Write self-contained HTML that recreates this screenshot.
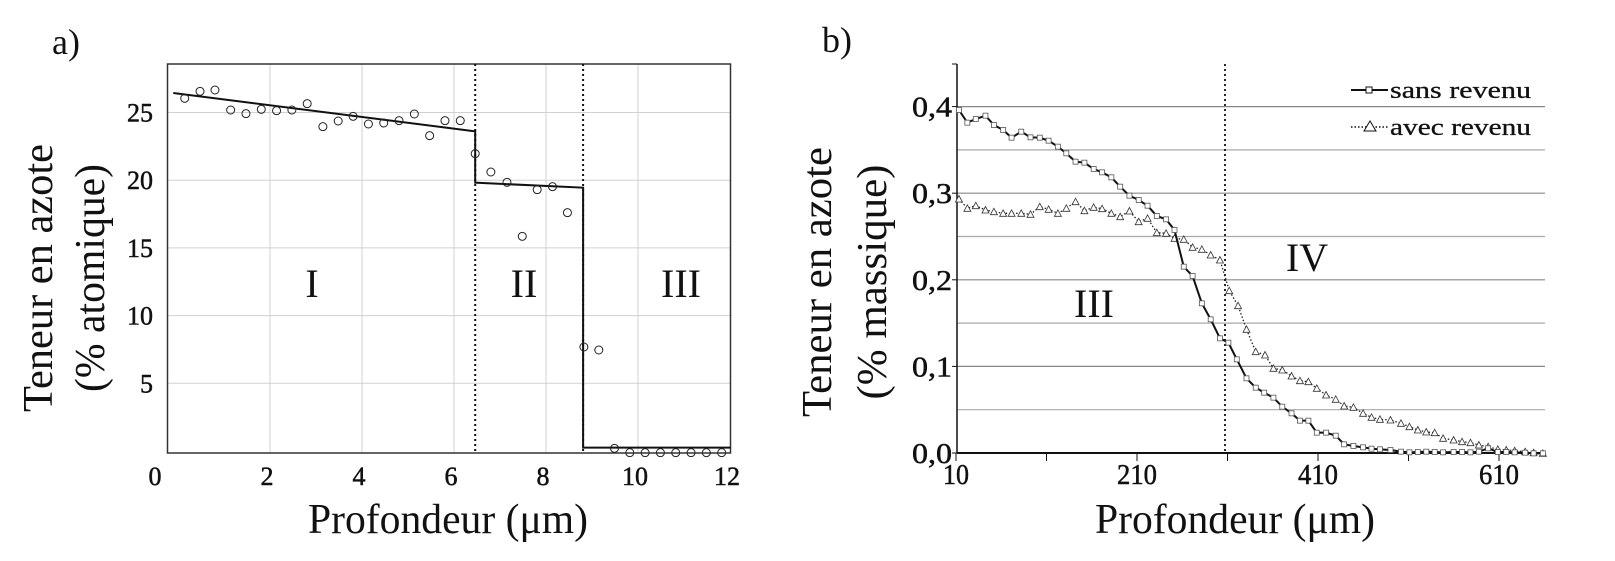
<!DOCTYPE html>
<html><head><meta charset="utf-8">
<style>
html,body{margin:0;padding:0;background:#fff;}
svg{display:block;}
text{font-family:"Liberation Serif","DejaVu Serif",serif;fill:#111;}
.tk{stroke:#111;stroke-width:0.5;}
</style></head>
<body>
<svg id="s" width="1615" height="561" xmlns="http://www.w3.org/2000/svg">
<rect width="1615" height="561" fill="#fff"/>
<g id="ga"></g>
<text x="52" y="54" font-size="36">a)</text>
<text font-size="42" text-anchor="middle" transform="translate(52,278) rotate(-90)" textLength="268" lengthAdjust="spacingAndGlyphs">Teneur en azote</text>
<text font-size="42" text-anchor="middle" transform="translate(104,278) rotate(-90)" textLength="228" lengthAdjust="spacingAndGlyphs">(% atomique)</text>
<text x="448" y="533" font-size="42" text-anchor="middle" textLength="280" lengthAdjust="spacingAndGlyphs">Profondeur (μm)</text>
<text x="312" y="297" font-size="40" text-anchor="middle">I</text>
<text x="524" y="297" font-size="40" text-anchor="middle">II</text>
<text x="681" y="297" font-size="40" text-anchor="middle">III</text>
<g id="gb"></g>
<text x="822" y="52" font-size="36">b)</text>
<text font-size="42" text-anchor="middle" transform="translate(831,282) rotate(-90)" textLength="270" lengthAdjust="spacingAndGlyphs">Teneur en azote</text>
<text font-size="42" text-anchor="middle" transform="translate(886,282) rotate(-90)" textLength="235" lengthAdjust="spacingAndGlyphs">(% massique)</text>
<text x="1235" y="533" font-size="42" text-anchor="middle" textLength="280" lengthAdjust="spacingAndGlyphs">Profondeur (μm)</text>
<text x="1094" y="317" font-size="40" text-anchor="middle">III</text>
<text x="1307" y="271" font-size="40" text-anchor="middle">IV</text>
<line x1="1351" y1="90" x2="1388" y2="90" stroke="#111" stroke-width="2"/>
<rect x="1366" y="87" width="6" height="6" fill="#fff" stroke="#111" stroke-width="1"/>
<text class="tk" x="1390" y="98" font-size="24" textLength="141" lengthAdjust="spacingAndGlyphs" font-family="Liberation Sans, sans-serif" style="stroke-width:0.3">sans revenu</text>
<line x1="1351" y1="127" x2="1388" y2="127" stroke="#111" stroke-width="1.5" stroke-dasharray="1.5,2"/>
<polygon points="1364,131 1376,131 1370,121" fill="#fff" stroke="#111" stroke-width="1"/>
<text class="tk" x="1390" y="135" font-size="24" textLength="141" lengthAdjust="spacingAndGlyphs" font-family="Liberation Sans, sans-serif" style="stroke-width:0.3">avec revenu</text>
</svg>
<script>
var NS="http://www.w3.org/2000/svg";
function el(p,t,a,txt){var e=document.createElementNS(NS,t);for(var k in a)e.setAttribute(k,a[k]);if(txt!==undefined)e.textContent=txt;p.appendChild(e);return e;}
var ga=document.getElementById('ga');
var L=167.5,T=64,R=730.5,B=453;
function ay(v){return 451-v*13.54;}
function ax(v){return 178+v*46;}
for(var v=5;v<=25;v+=5){el(ga,'line',{x1:L,x2:R,y1:ay(v),y2:ay(v),stroke:'#d0d0d0','stroke-width':1});
 el(ga,'text',{x:153,y:ay(v)+9,'font-size':26,'text-anchor':'end','class':'tk'},v);}
for(var v=2;v<=10;v+=2){el(ga,'line',{x1:ax(v),x2:ax(v),y1:T,y2:B,stroke:'#d0d0d0','stroke-width':1});}
for(var v=0;v<=12;v+=2){el(ga,'text',{x:v==0?155:ax(v)-3,y:485,'font-size':26,'text-anchor':'middle','class':'tk'},v);}
el(ga,'rect',{x:L,y:T,width:R-L,height:B-T,fill:'none',stroke:'#333','stroke-width':1.5});
function pa(zx,zy){return [130+zx*0.3827,50+zy/3];}
[475.2,583.1].forEach(function(x){el(ga,'line',{x1:x,x2:x,y1:T,y2:B,stroke:'#111','stroke-width':2,'stroke-dasharray':'2,3'});});
var ln=[[113,129],[902,244],[902,398],[1184,413],[1184,1193],[1650,1193]].map(function(p){var q=pa(p[0],p[1]);return Math.min(q[0],R)+','+q[1];}).join(' ');
el(ga,'polyline',{points:ln,fill:'none',stroke:'#111','stroke-width':2});
var pts=[[143,145],[183,124],[222,120],[263,180],[303,191],[343,178],[383,182],[423,180],[463,161],[504,230],[544,213],[583,199],[623,222],[663,219],[703,212],[743,192],[783,257],[823,212],[863,212],[902,311],[943,366],[985,397],[1025,559],[1064,419],[1104,410],[1143,488],[1186,891],[1225,900],[1266,1195],[1306,1208],[1346,1208],[1386,1208],[1426,1208],[1466,1208],[1506,1208],[1546,1208]];
pts.forEach(function(p){var q=pa(p[0],p[1]);el(ga,'circle',{cx:q[0],cy:q[1],r:4,fill:'none',stroke:'#222','stroke-width':1});});
var gb=document.getElementById('gb');
var L2=957,R2=1545,T2=64,B2=453;
function by(v){return 453-v*866;}
for(var i=1;i<=8;i++){var v=i*0.05;el(gb,'line',{x1:L2,x2:R2,y1:by(v),y2:by(v),stroke:i%2==0?'#888':'#aaa','stroke-width':1.2});}
for(var i=0;i<=4;i++){el(gb,'text',{x:952,y:by(i*0.1)+10,'font-size':28,'text-anchor':'end',textLength:40,lengthAdjust:'spacingAndGlyphs','class':'tk'},'0,'+i);
 el(gb,'line',{x1:L2-5,x2:L2,y1:by(i*0.1),y2:by(i*0.1),stroke:'#111'});}
el(gb,'line',{x1:L2,x2:L2,y1:T2,y2:B2,stroke:'#111','stroke-width':1.5});
el(gb,'line',{x1:L2,x2:R2,y1:B2,y2:B2,stroke:'#111','stroke-width':2});
el(gb,'line',{x1:L2-5,x2:L2,y1:T2,y2:T2,stroke:'#111'});
for(var i=0;i<7;i++){var x=956+i*90.5;el(gb,'line',{x1:x,x2:x,y1:B2,y2:B2+8,stroke:'#111'});}
[[10,956],[210,1137],[410,1318],[610,1499]].forEach(function(a){el(gb,'text',{x:a[1],y:484,'font-size':28,'text-anchor':'middle',textLength:a[0]>99?40:26,lengthAdjust:'spacingAndGlyphs','class':'tk'},a[0]);});
el(gb,'line',{x1:1225,x2:1225,y1:T2,y2:B2,stroke:'#111','stroke-width':1.8,'stroke-dasharray':'2,3'});
function pb(p){return [900+p[0]*0.421,50+p[1]/3];}
var s1=[[140,180],[160,218],[180,207],[203,197],[223,225],[245,240],[265,263],[288,245],[310,262],[332,263],[353,272],[375,290],[395,310],[417,335],[438,338],[460,357],[480,367],[502,382],[523,410],[545,437],[567,450],[588,467],[610,498],[632,508],[652,540],[674,650],[695,678],[717,760],[738,808],[760,865],[780,878],[800,928],[823,985],[845,1013],[865,1028],[887,1043],[908,1070],[930,1090],[950,1112],[970,1112],[990,1148],[1012,1148],[1035,1157],[1055,1183],[1077,1188],[1100,1192],[1120,1196],[1140,1198],[1165,1200],[1190,1205],[1210,1207],[1230,1206],[1250,1205],[1270,1206],[1290,1207],[1315,1206],[1335,1206],[1355,1207],[1375,1205],[1397,1195],[1420,1206],[1440,1206],[1460,1207],[1485,1208],[1505,1210],[1527,1210]];
var s2=[[140,447],[160,475],[180,467],[203,480],[223,485],[245,490],[265,490],[288,490],[310,493],[332,470],[353,478],[375,490],[395,475],[417,455],[438,482],[460,472],[480,476],[502,490],[523,500],[545,483],[567,515],[588,505],[610,548],[632,550],[652,565],[674,568],[695,592],[717,598],[738,615],[760,630],[782,722],[803,767],[823,838],[845,905],[867,915],[887,955],[908,960],[930,978],[950,992],[970,995],[990,1015],[1012,1035],[1035,1048],[1055,1068],[1077,1072],[1100,1090],[1120,1102],[1140,1108],[1165,1110],[1190,1120],[1210,1130],[1230,1140],[1250,1146],[1270,1148],[1290,1165],[1315,1170],[1335,1175],[1355,1178],[1375,1185],[1397,1190],[1420,1198],[1440,1200],[1460,1202],[1485,1205],[1505,1208],[1527,1210]];
var P1=s1.map(pb),P2=s2.map(pb);
el(gb,'polyline',{points:P2.map(function(q){return q.join(',');}).join(' '),fill:'none',stroke:'#222','stroke-width':1.3,'stroke-dasharray':'1.5,2'});
P2.forEach(function(q){el(gb,'polygon',{points:(q[0]-3.5)+','+(q[1]+3)+' '+(q[0]+3.5)+','+(q[1]+3)+' '+q[0]+','+(q[1]-3.5),fill:'#fff',stroke:'#333','stroke-width':0.8});});
el(gb,'polyline',{points:P1.map(function(q){return q.join(',');}).join(' '),fill:'none',stroke:'#111','stroke-width':2});
P1.forEach(function(q){el(gb,'rect',{x:q[0]-2.5,y:q[1]-2.5,width:5,height:5,fill:'#fff',stroke:'#555','stroke-width':0.8});});
</script>
</body></html>
